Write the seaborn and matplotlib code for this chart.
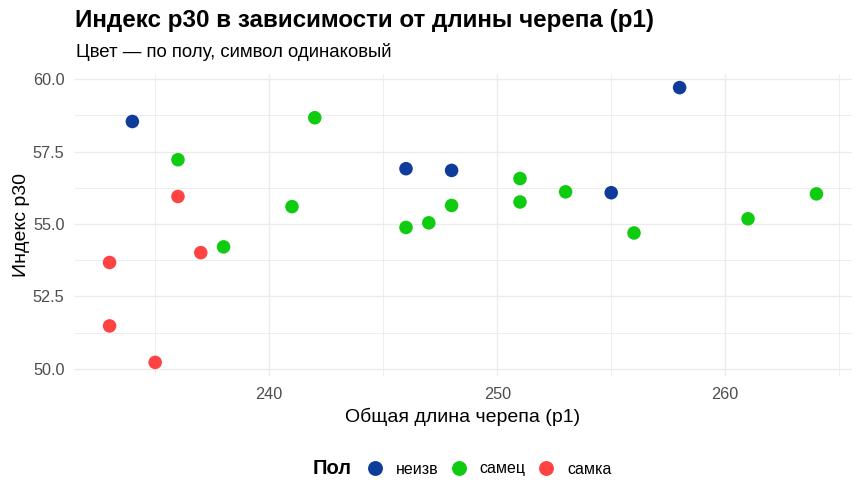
import pandas as pd
import matplotlib
matplotlib.use("Agg")
import matplotlib.pyplot as plt
import seaborn as sns
from matplotlib.ticker import MultipleLocator

# skull length (p1), index p30, sex
p1 = [234, 236, 236, 241, 242, 246, 248, 246, 247, 248, 237, 238, 233, 233, 235,
      258, 251, 251, 253, 255, 256, 261, 264]
p30 = [58.54, 57.22, 55.95, 55.60, 58.67, 56.91, 56.85, 54.88, 55.04, 55.64, 54.01,
       54.21, 53.67, 51.48, 50.22, 59.71, 56.57, 55.76, 56.11, 56.08, 54.69, 55.18, 56.04]
sex = ["неизв", "самец", "самка", "самец", "самец", "неизв", "неизв", "самец", "самец",
       "самец", "самка", "самец", "самка", "самка", "самка", "неизв", "самец", "самец",
       "самец", "неизв", "самец", "самец", "самец"]

sex_order = ["неизв", "самец", "самка"]
colors = ["#0F3C9B", "#10CC10", "#FF4242"]

df = pd.DataFrame({"p1": p1, "p30": p30, "sex": sex})

sns.set_theme(style="whitegrid")
plt.rcParams["font.family"] = ["Liberation Sans", "DejaVu Sans"]
plt.rcParams["text.color"] = "black"
plt.rcParams["axes.labelcolor"] = "black"

fig = plt.figure(figsize=(8.63, 5.0), dpi=100)
ax = fig.add_axes([0.086, 0.248, 0.901, 0.604])

sns.scatterplot(data=df, x="p1", y="p30", hue="sex", hue_order=sex_order,
                palette=colors, s=95, edgecolor="none", ax=ax, legend=True)

ax.set_xlim(231.45, 265.55)
ax.set_ylim(49.75, 60.18)
ax.xaxis.set_major_locator(MultipleLocator(10))
ax.xaxis.set_minor_locator(MultipleLocator(5))
ax.yaxis.set_major_locator(MultipleLocator(2.5))
ax.yaxis.set_minor_locator(MultipleLocator(1.25))
ax.yaxis.set_major_formatter(matplotlib.ticker.FormatStrFormatter("%.1f"))

ax.grid(which="major", color="#EBEBEB", linewidth=1.0)
ax.grid(which="minor", color="#EBEBEB", linewidth=0.6)
for s in ax.spines.values():
    s.set_visible(False)
ax.tick_params(axis="both", which="both", length=0, labelsize=11.7, labelcolor="#4D4D4D")
ax.tick_params(axis="x", pad=8)
ax.tick_params(axis="y", pad=7)

ax.set_xlabel("Общая длина черепа (p1)", fontsize=14, labelpad=4)
ax.set_ylabel("Индекс p30", fontsize=14, labelpad=2)

fig.text(0.087, 0.96, "Индекс p30 в зависимости от длины черепа (p1)",
         fontsize=17.4, fontweight="bold", ha="left", va="center")
fig.text(0.088, 0.896, "Цвет — по полу, символ одинаковый",
         fontsize=13.4, ha="left", va="center")

handles, labels = ax.get_legend_handles_labels()
ax.get_legend().remove()
fig.text(0.408, 0.062, "Пол", fontsize=14.5, fontweight="bold", ha="right", va="center")
fig.legend(handles, labels, loc="center left", bbox_to_anchor=(0.425, 0.062),
           ncol=3, frameon=False, fontsize=11.5, handlelength=1.0,
           handletextpad=0.8, columnspacing=0.8, markerscale=1.1,
           borderpad=0, borderaxespad=0)

fig.savefig("out.png", dpi=100)
